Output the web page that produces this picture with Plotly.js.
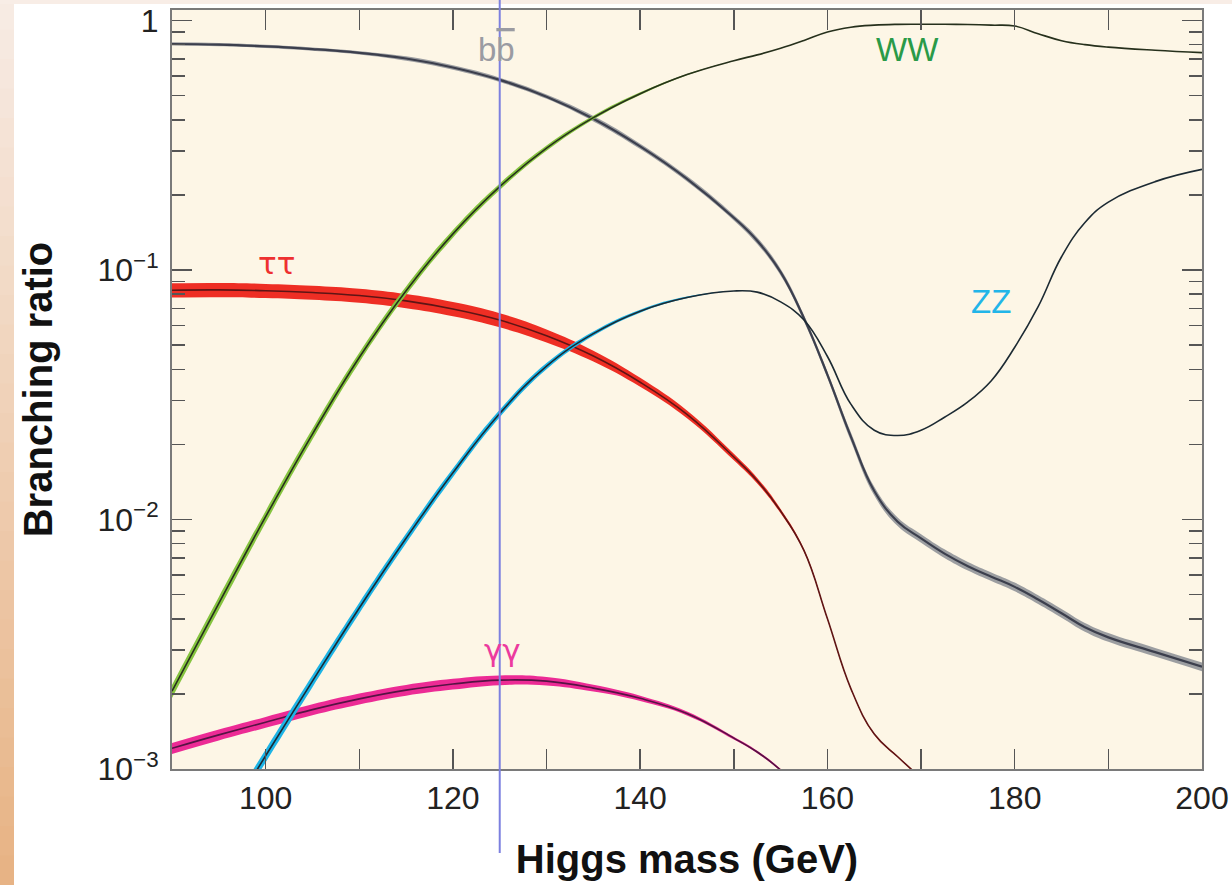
<!DOCTYPE html>
<html><head><meta charset="utf-8">
<script src="https://cdn.plot.ly/plotly-3.0.1.min.js"></script>
<style>html,body{margin:0;padding:0;background:#fff;overflow:hidden}#chart{width:1232px;height:885px}</style>
</head><body><div id="chart"></div>
<script>
// Higgs mass (GeV)
const mass = [90,95,100,105,110,115,120,125,130,135,140,145,150,152.5,155,157.5,160,162.5,165,167.5,170,172.5,175,177.5,180,182.5,185,187.5,190,195,200];
// H -> b bbar
const bbBR  = [0.805,0.800,0.787,0.768,0.742,0.704,0.648,0.578,0.495,0.404,0.313,0.232,0.162,0.131,0.098,0.064,0.038,0.0215,0.0130,0.0098,0.0084,0.0073,0.0065,0.0059,0.00537,0.00478,0.00421,0.0037,0.00337,0.00294,0.00257];
const bbUnc = [1.5,1.5,1.5,1.5,1.5,2,2,2,2,2.5,2.5,2.5,2.5,3,3,3,3,4,4,4,4,4,4,4,4,4,4,4,4,4,4];
// H -> WW
const wwBR  = [0.00205,0.00461,0.01026,0.0220,0.0446,0.0826,0.1396,0.2158,0.308,0.408,0.509,0.607,0.690,0.728,0.774,0.832,0.900,0.940,0.958,0.965,0.966,0.966,0.963,0.958,0.950,0.885,0.830,0.800,0.782,0.760,0.743];
const wwUnc = [6,6,5.5,5,4.5,4,3.5,3,2.5,1.8,1.2,0.6,0,0,0,0,0,0,0,0,0,0,0,0,0,0,0,0,0,0,0];
// H -> ZZ
const massZZ = [95,100,105,110,115,120,125,130,135,140,145,150,152.5,155,157.5,160,162.5,165,167.5,170,172.5,175,177.5,180,182.5,185,187.5,190,195,200];
const zzBR  = [0.00056,0.00113,0.00225,0.00442,0.00841,0.01538,0.0266,0.0412,0.0556,0.0684,0.0776,0.0824,0.0815,0.0745,0.063,0.045,0.029,0.0228,0.0217,0.0228,0.0257,0.0296,0.036,0.049,0.0713,0.113,0.155,0.187,0.226,0.253];
const zzUnc = [6,6,5.5,5,4.5,4,3.5,2.8,2,1.4,0.8,0,0,0,0,0,0,0,0,0,0,0,0,0,0,0,0,0,0,0];
// H -> tau tau
const massTT = [90,95,100,105,110,115,120,125,130,135,140,145,150,152.5,155,157.5,160,162.5,165,167.5,170];
const ttBR  = [0.083,0.0832,0.0826,0.0812,0.079,0.0752,0.0698,0.063,0.0545,0.0452,0.0355,0.0264,0.0178,0.0143,0.0108,0.0075,0.0040,0.0021,0.00138,0.00112,0.00092];
const ttUnc = [6.5,6.5,6.5,6.5,6.5,6.5,6.5,6.5,6,5,4.2,3.6,3,2.6,2,1.2,0.6,0.5,0.5,0.5,0.5];
// H -> gamma gamma
const massGG = [90,95,100,105,110,115,120,125,130,135,140,145,150,152.5,155,157.5];
const ggBR  = [0.00121,0.00137,0.00154,0.00173,0.00191,0.00207,0.00219,0.00227,0.00225,0.00211,0.00192,0.00167,0.00133,0.00117,0.00099,0.0008];
const ggUnc = [5,5,5,5,5,5,5,4.5,4,3.2,2.5,1.8,1.3,1.1,1,1];

const xTickVals = [100,120,140,160,180,200];
const xTickText = ['100','120','140','160','180','200'];
const xMinorVals = [90,110,130,150,170,190];
const yTickVals = [0.001,0.01,0.1,1];
const yTickText = ['10<sup>−3</sup>','10<sup>−2</sup>','10<sup>−1</sup>','1'];

const FONT = 'Liberation Sans, Arial, Helvetica, sans-serif';
const GFONT = 'DejaVu Sans, Liberation Sans, sans-serif';

function series(x, v, unc, bandColor, lineColor, lineW) {
  const up = v.map((d,i)=>d*(1+unc[i]/100));
  const lo = v.map((d,i)=>d*(1-unc[i]/100));
  const sh = {shape:'spline', smoothing:1.2, simplify:false};
  return [
    {x:x, y:up, mode:'lines', line:Object.assign({width:0, color:bandColor}, sh), hoverinfo:'skip'},
    {x:x, y:lo, mode:'lines', line:Object.assign({width:0, color:bandColor}, sh), fill:'tonexty', fillcolor:bandColor, hoverinfo:'skip'},
    {x:x, y:v, mode:'lines', line:Object.assign({width:lineW, color:lineColor}, sh)}
  ];
}

const data = [].concat(
  series(massGG, ggBR, ggUnc, '#ec2b95', '#561344', 1.6),
  series(massTT, ttBR, ttUnc, '#ee2e24', '#5e1515', 1.6),
  series(mass, bbBR, bbUnc, 'rgba(105,110,125,0.65)', '#3c3f4d', 2.2),
  series(massZZ, zzBR, zzUnc, '#1db4e6', '#1c2a33', 1.6),
  series(mass, wwBR, wwUnc, '#86c440', '#26301c', 1.6)
);

// plot area: left 172, right 1202, top 10, bottom 769
const L=172, R=1202, T=10, B=769;
const px = x => (x-L)/(R-L);
const py = y => (B-y)/(B-T);
const shapes = [];
const N = 30;
const c0 = [247,236,229], c1 = [231,178,131];
for (let i=0;i<N;i++){
  const f=(i+0.5)/N;
  const c=c0.map((a,k)=>Math.round(a+(c1[k]-a)*f));
  shapes.push({type:'rect', xref:'paper', yref:'paper', layer:'below',
    x0:px(0), x1:px(14), y0:py(885*(i+1)/N+1), y1:py(885*i/N),
    fillcolor:`rgb(${c.join(',')})`, line:{width:0}});
}
shapes.push({type:'rect', xref:'paper', yref:'paper', layer:'below',
  x0:px(0), x1:px(1232), y0:py(4), y1:py(0), fillcolor:'#f8ede6', line:{width:0}});
shapes.push({type:'line', xref:'x', yref:'paper', x0:125, x1:125, y0:py(853), y1:py(0),
  line:{color:'#7c80df', width:2}, layer:'above'});

const lbl = (t, x, ly, color, fam, size) => ({text:t, x:x, y:ly, xref:'x', yref:'y', showarrow:false,
  font:{family:fam||FONT, size:size||33, color:color}, xanchor:'center', yanchor:'middle'});

const minorVals = [];
[0.001,0.01,0.1].forEach(d=>{for(let k=2;k<=9;k++) minorVals.push(d*k);});

const layout = {
  width:1232, height:885,
  margin:{l:L, r:1232-R, t:T, b:885-B, pad:0},
  paper_bgcolor:'#ffffff', plot_bgcolor:'#fdf6e6',
  showlegend:false,
  font:{family:FONT, color:'#222'},
  xaxis:{range:[90,200], tickmode:'array', tickvals:xTickVals, ticktext:xTickText,
    ticks:'inside', ticklen:20, tickwidth:1.5, tickcolor:'#555',
    minor:{tickmode:'array', tickvals:xMinorVals, ticks:'inside', ticklen:20, tickwidth:1.5, tickcolor:'#555', showgrid:false},
    showline:true, linecolor:'#7a7a7a', linewidth:2, mirror:'allticks',
    showgrid:false, zeroline:false, tickfont:{size:32, color:'#222', family:FONT},
    ticklabelstandoff:0,
    title:{text:'Higgs mass (GeV)', font:{size:40, family:FONT, weight:700, color:'#111'}, standoff:30}},
  yaxis:{type:'log', range:[-3, 0.042], tickmode:'array', tickvals:yTickVals, ticktext:yTickText,
    ticks:'inside', ticklen:20, tickwidth:1.5, tickcolor:'#555',
    minor:{tickmode:'array', tickvals:minorVals, ticks:'inside', ticklen:13, tickwidth:1.5, tickcolor:'#555', showgrid:false},
    showline:true, linecolor:'#7a7a7a', linewidth:2, mirror:'allticks',
    showgrid:false, zeroline:false, tickfont:{size:32, color:'#222', family:FONT},
    ticklabelstandoff:5,
    title:{text:'Branching ratio', font:{size:40, family:FONT, weight:700, color:'#111'}, standoff:32}},
  shapes:shapes,
  annotations:[
    lbl('b<span style="text-decoration:overline">b</span>', 124.7, -0.118, '#9a9ba2'),
    lbl('WW', 168.6, -0.118, '#2a9a48'),
    lbl('ττ', 101.2, -0.972, '#ee3030', GFONT, 31),
    lbl('ZZ', 177.5, -1.128, '#22b5e8'),
    lbl('γγ', 125.3, -2.523, '#ec3a9e', GFONT, 31)
  ]
};

Plotly.newPlot('chart', data, layout, {staticPlot:true, displayModeBar:false});
</script>
</body></html>
